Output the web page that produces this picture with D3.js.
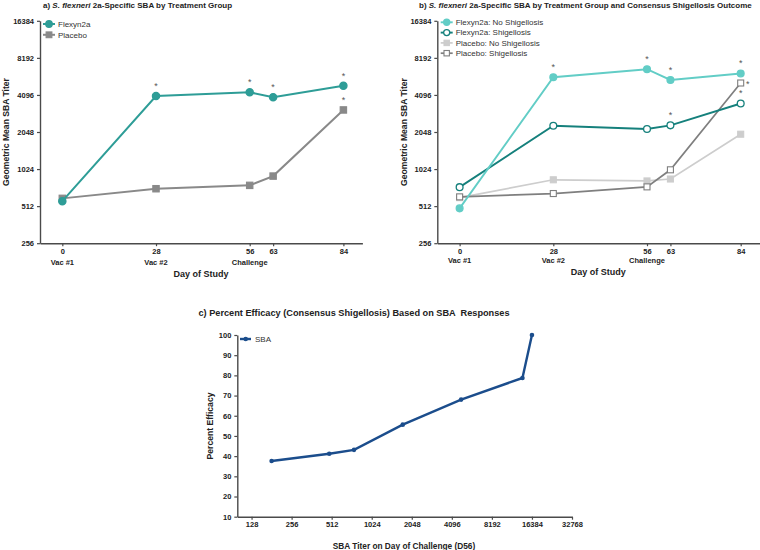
<!DOCTYPE html>
<html><head><meta charset="utf-8">
<script src="https://cdn.jsdelivr.net/npm/d3@7"></script>
<style>
body{margin:0;background:#fff;}
text{font-family:"Liberation Sans",Arial,sans-serif;}
</style></head>
<body><svg id="c" width="760" height="550"></svg>
<script>
// ---- data ----
const days = [0, 28, 56, 63, 84];
const dayLabels = ["Vac #1", "Vac #2", "Challenge", "", ""];
const titerTicks = [256, 512, 1024, 2048, 4096, 8192, 16384];

// panel a
const aFlexyn = [562, 4010, 4300, 3930, 4870];
const aPlacebo = [592, 709, 755, 898, 3093];

// panel b
const bFlexNo = [491, 5700, 6630, 5420, 6120];
const bFlexShig = [730, 2300, 2165, 2320, 3490];
const bPlacNo = [600, 838, 820, 850, 1965];
const bPlacShig = [609, 648, 734, 1010, 5120];

// panel c
const cTiter = [181, 491, 754, 1752, 4810, 13900, 16384];
const cEfficacy = [37.6, 41.2, 43.1, 55.6, 68.0, 78.7, 100];
const cXTicks = [128, 256, 512, 1024, 2048, 4096, 8192, 16384, 32768];
const cYTicks = [10, 20, 30, 40, 50, 60, 70, 80, 90, 100];

const svg = d3.select("#c");
const axisCol = "#4a4a4a";
const textCol = "#222";

function styleAxis(g){
  g.select(".domain").attr("stroke", axisCol).attr("stroke-width", 1.4);
  g.selectAll(".tick line").attr("stroke", axisCol).attr("stroke-width", 1.2);
  g.selectAll(".tick text").attr("fill", textCol).attr("font-weight", "bold").attr("font-size", "7.5px");
}

function marker(g, shape, x, y, color, filled, size){
  if (shape === "circle") {
    g.append("circle").attr("cx", x).attr("cy", y).attr("r", size)
      .attr("fill", filled ? color : "#fff").attr("stroke", color).attr("stroke-width", 1.3);
  } else {
    g.append("rect").attr("x", x - size).attr("y", y - size).attr("width", 2*size).attr("height", 2*size)
      .attr("fill", filled ? color : "#fff").attr("stroke", color).attr("stroke-width", 1.1);
  }
}

function timePanel(cfg){
  const g = svg.append("g");
  const x = d3.scaleLinear().domain([-6.67, 89.68]).range([cfg.x0, cfg.x0 + 322.4]);
  const y = d3.scaleLog().base(2).domain([256, 16384]).range([243.2, 20.8]);
  const ya = g.append("g").attr("transform", `translate(${cfg.x0},0)`)
    .call(d3.axisLeft(y).tickValues(titerTicks).tickFormat(d3.format("d")).tickSize(3).tickSizeOuter(0));
  styleAxis(ya);
  const xa = g.append("g").attr("transform", `translate(0,243.2)`)
    .call(d3.axisBottom(x).tickValues(days).tickFormat(d3.format("d")).tickSize(3).tickSizeOuter(0));
  styleAxis(xa);
  xa.selectAll(".tick text").attr("dy", "0.6em");
  days.forEach((d, i) => {
    if (dayLabels[i]) g.append("text").attr("x", x(d)).attr("y", cfg.subY).attr("text-anchor", "middle")
      .attr("font-size", "7.5px").attr("font-weight", "bold").attr("fill", textCol).text(dayLabels[i]);
  });
  g.append("text").attr("x", cfg.x0 + 161).attr("y", cfg.xtY).attr("text-anchor", "middle")
    .attr("font-size", "9px").attr("font-weight", "bold").attr("fill", textCol).text("Day of Study");
  g.append("text").attr("transform", `translate(${cfg.ytX},132) rotate(-90)`).attr("text-anchor", "middle")
    .attr("font-size", "8.6px").attr("font-weight", "bold").attr("fill", textCol).text("Geometric Mean SBA Titer");
  const t = g.append("text").attr("x", cfg.titleX).attr("y", 7.5).attr("font-size", cfg.titleSize)
    .attr("font-weight", "bold").attr("fill", textCol);
  t.append("tspan").text(cfg.titlePre);
  t.append("tspan").attr("font-style", "italic").text("S. flexneri");
  t.append("tspan").text(cfg.titlePost);
  const line = d3.line().x((d) => x(d[0])).y((d) => y(d[1]));
  cfg.series.forEach(s => {
    const pts = days.map((d, i) => [d, s.values[i]]);
    g.append("path").datum(pts).attr("d", line).attr("fill", "none").attr("stroke", s.color).attr("stroke-width", s.lw);
    pts.forEach(p => marker(g, s.shape, x(p[0]), y(p[1]), s.color, s.filled, s.size));
  });
  cfg.series.slice().sort((a, b) => a.order - b.order).forEach((s, i) => {
    const ly = cfg.legY + i * cfg.legStep;
    g.append("line").attr("x1", cfg.legX - 6).attr("x2", cfg.legX + 6).attr("y1", ly).attr("y2", ly)
      .attr("stroke", s.color).attr("stroke-width", s.lw);
    marker(g, s.shape, cfg.legX, ly, s.color, s.filled, s.size * 0.9);
    g.append("text").attr("x", cfg.legX + 9).attr("y", ly).attr("dy", "0.35em").attr("font-size", "8px")
      .attr("fill", "#333").text(s.name);
  });
  cfg.stars.forEach(st => {
    g.append("text").attr("x", x(st.d) + (st.dx || 0)).attr("y", y(st.v) + (st.dy || -7))
      .attr("text-anchor", "middle").attr("font-size", "9px").attr("fill", "#555").text("*");
  });
  return g;
}

// panel a
timePanel({
  x0: 40, subY: 264.5, xtY: 277, ytX: 8.5, titleX: 43, titleSize: "8px",
  titlePre: "a) ", titlePost: " 2a-Specific SBA by Treatment Group",
  legX: 49, legY: 24, legStep: 10.8,
  series: [
    {name: "Placebo", values: aPlacebo, color: "#898989", shape: "square", filled: true, size: 3.2, lw: 2, order: 1},
    {name: "Flexyn2a", values: aFlexyn, color: "#2e9d97", shape: "circle", filled: true, size: 3.6, lw: 2, order: 0}
  ],
  stars: [
    {d: 28, v: aFlexyn[1]}, {d: 56, v: aFlexyn[2]}, {d: 63, v: aFlexyn[3]}, {d: 84, v: aFlexyn[4]}, {d: 84, v: aPlacebo[4]}
  ]
});

// panel b
timePanel({
  x0: 437.3, subY: 262.5, xtY: 274.5, ytX: 406.5, titleX: 419, titleSize: "8px",
  titlePre: "b) ", titlePost: " 2a-Specific SBA by Treatment Group and Consensus Shigellosis Outcome",
  legX: 446.7, legY: 22.3, legStep: 10.3,
  series: [
    {name: "Placebo: No Shigellosis", values: bPlacNo, color: "#cdcdcd", shape: "square", filled: true, size: 3, lw: 1.7, order: 2},
    {name: "Placebo: Shigellosis", values: bPlacShig, color: "#7f7f7f", shape: "square", filled: false, size: 3, lw: 1.7, order: 3},
    {name: "Flexyn2a: Shigellosis", values: bFlexShig, color: "#15807c", shape: "circle", filled: false, size: 3.4, lw: 1.9, order: 1},
    {name: "Flexyn2a: No Shigellosis", values: bFlexNo, color: "#62cdc6", shape: "circle", filled: true, size: 3.4, lw: 1.9, order: 0}
  ],
  stars: [
    {d: 28, v: bFlexNo[1]}, {d: 56, v: bFlexNo[2]}, {d: 63, v: bFlexNo[3]}, {d: 84, v: bFlexNo[4]},
    {d: 63, v: bFlexShig[3]}, {d: 84, v: bFlexShig[4]},
    {d: 84, v: bPlacShig[4], dx: 7, dy: 4}
  ]
});

// panel c
(function(){
  const g = svg.append("g");
  const x = d3.scaleLog().base(2).domain([100, 32768]).range([237.3, 572]);
  const y = d3.scaleLinear().domain([10, 100]).range([516.7, 335]);
  const ya = g.append("g").attr("transform", "translate(237.3,0)")
    .call(d3.axisLeft(y).tickValues(cYTicks).tickSize(3).tickSizeOuter(0));
  styleAxis(ya);
  const xa = g.append("g").attr("transform", "translate(0,516.7)")
    .call(d3.axisBottom(x).tickValues(cXTicks).tickFormat(d3.format("d")).tickSize(3).tickSizeOuter(0));
  styleAxis(xa);
  xa.selectAll(".tick text").attr("dy", "0.6em");
  g.append("text").attr("x", 354).attr("y", 316).attr("text-anchor", "middle").attr("font-size", "9.2px")
    .attr("font-weight", "bold").attr("fill", textCol).attr("xml:space", "preserve")
    .text("c) Percent Efficacy (Consensus Shigellosis) Based on SBA  Responses");
  g.append("text").attr("x", 404).attr("y", 548.5).attr("text-anchor", "middle").attr("font-size", "8.3px")
    .attr("font-weight", "bold").attr("fill", textCol).text("SBA Titer on Day of Challenge (D56)");
  g.append("text").attr("transform", "translate(213,426) rotate(-90)").attr("text-anchor", "middle")
    .attr("font-size", "8.6px").attr("font-weight", "bold").attr("fill", textCol).text("Percent Efficacy");
  const col = "#1b4d8c";
  const pts = cTiter.map((t, i) => [t, cEfficacy[i]]);
  g.append("path").datum(pts).attr("d", d3.line().x(d => x(d[0])).y(d => y(d[1])))
    .attr("fill", "none").attr("stroke", col).attr("stroke-width", 2.4);
  pts.forEach(p => g.append("circle").attr("cx", x(p[0])).attr("cy", y(p[1])).attr("r", 2.3).attr("fill", col));
  g.append("line").attr("x1", 240).attr("x2", 251).attr("y1", 339).attr("y2", 339).attr("stroke", col).attr("stroke-width", 2.4);
  g.append("circle").attr("cx", 245.7).attr("cy", 339).attr("r", 2.3).attr("fill", col);
  g.append("text").attr("x", 255).attr("y", 339).attr("dy", "0.35em").attr("font-size", "8px").attr("fill", "#333").text("SBA");
})();
</script></body></html>
